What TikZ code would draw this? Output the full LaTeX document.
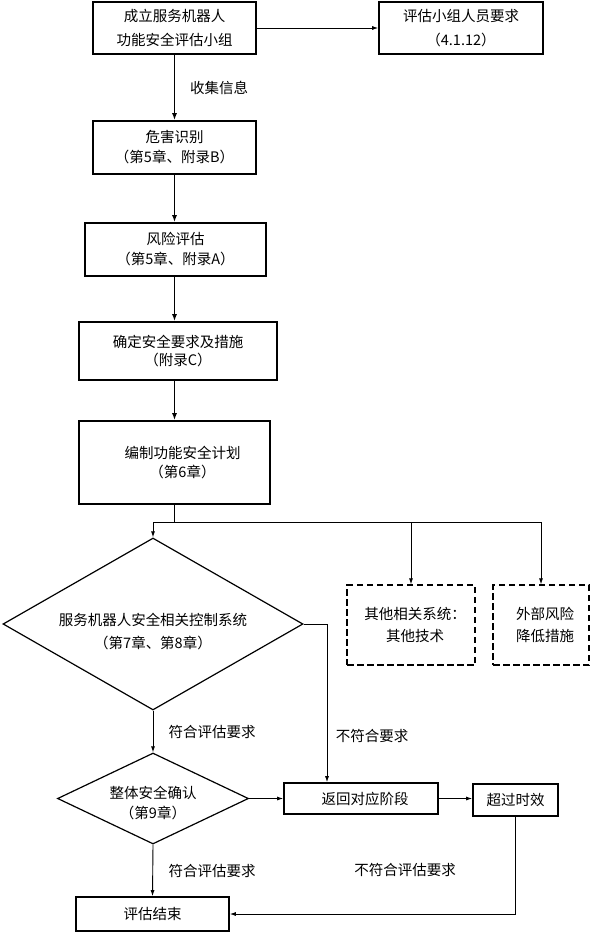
\documentclass[tikz,border=0pt]{standalone}
\usepackage{fontspec}
\setmainfont{Noto Sans CJK SC}
\usetikzlibrary{shapes.geometric,arrows.meta}
\begin{document}
\begin{tikzpicture}[x=1pt,y=-1pt,
  font=\fontsize{14.5}{20}\selectfont,
  box/.style={draw,line width=1.6pt,inner sep=0pt,align=center},
  dbox/.style={draw,line width=1.2pt,dash pattern=on 6.5pt off 3.5pt,inner sep=0pt,align=center},
  dia/.style={draw,diamond,line width=1.2pt,inner sep=0pt},
  txt/.style={inner sep=0pt,align=center},
  ln/.style={line width=0.9pt},
  arr/.style={line width=0.9pt,-{Latex[length=6pt,width=4pt]}},
  thk/.style={line width=1.8pt,-{Latex[length=7pt,width=5pt]}}]
\useasboundingbox (0,0) rectangle (591,932);
% main boxes
\node[box,minimum width=163pt,minimum height=52pt] (b1) at (174.5,28) {成立服务机器人\\[4pt]功能安全评估小组};
\node[box,minimum width=164pt,minimum height=52pt] (b2) at (461,28) {评估小组人员要求\\[4pt]（4.1.12）};
\node[box,minimum width=163pt,minimum height=53pt] (b3) at (174.5,147.5) {危害识别\\（第5章、附录B）};
\node[box,minimum width=181pt,minimum height=53pt] (b4) at (175.5,249.5) {风险评估\\（第5章、附录A）};
\node[box,minimum width=198pt,minimum height=58pt] (b5) at (178,351) {确定安全要求及措施\\[-2pt]（附录C）};
\node[box,minimum width=191pt,minimum height=83pt] (b6) at (174.5,462.5) {\hspace*{16pt}编制功能安全计划\\[-1pt]\hspace*{16pt}（第6章）};
% dashed boxes
\node[dbox,minimum width=128pt,minimum height=80pt] (dA) at (411,625) {\hspace*{8pt}其他相关系统：\\[2pt]\hspace*{8pt}其他技术};
\node[dbox,minimum width=96pt,minimum height=80pt] (dB) at (541,625) {\hspace*{8pt}外部风险\\[2pt]\hspace*{8pt}降低措施};
% diamonds
\node[dia,minimum width=300pt,minimum height=172pt] (d1) at (153,624) {};
\node[txt] (d1t) at (153,632) {服务机器人安全相关控制系统\\[3pt]（第7章、第8章）};
\node[dia,minimum width=191pt,minimum height=91pt] (d2) at (153,798.5) {};
\node[txt] (d2t) at (153,803) {整体安全确认\\（第9章）};
% lower boxes
\node[box,minimum width=154pt,minimum height=31pt] (ret) at (361,798.5) {\hspace*{8pt}返回对应阶段};
\node[box,minimum width=85pt,minimum height=32pt] (over) at (515.5,800) {超过时效};
\node[box,minimum width=153pt,minimum height=34pt] (end) at (152.5,914) {评估结束};
% labels
\node[txt] (l1) at (219,88) {收集信息};
\node[txt] (l2) at (212,732) {符合评估要求};
\node[txt] (l3) at (372,736) {不符合要求};
\node[txt] (l4) at (212,871) {符合评估要求};
\node[txt] (l5) at (405,870) {不符合评估要求};
% coordinates
\coordinate (j) at (174.5,522);
\coordinate (c1) at (327,624);
% connectors
\draw[arr] (b1.east) -- (b2.west);
\draw[thk] (b1.south) -- (b3.north);
\draw[thk] (b3.south) -- (b3.south |- b4.north);
\draw[thk] (b3.south |- b4.south) -- (b3.south |- b5.north);
\draw[thk] (b3.south |- b5.south) -- (b3.south |- b6.north);
\draw[ln] (b6.south) -- (j);
\draw[arr] (j) -| (d1.north);
\draw[arr] (j) -| (dA.north);
\draw[arr] (j) -| (dB.north);
\draw[arr] (d1.east) -- (c1) -- (c1 |- ret.north);
\draw[arr] (d1.south) -- (d2.north);
\draw[arr] (d2.east) -- (ret.west);
\draw[arr] (ret.east) -- (ret.east -| over.west);
\draw[arr] (over.south) |- (end.east);
\draw[arr] (d2.south) -- (end.north);
\end{tikzpicture}
\end{document}
